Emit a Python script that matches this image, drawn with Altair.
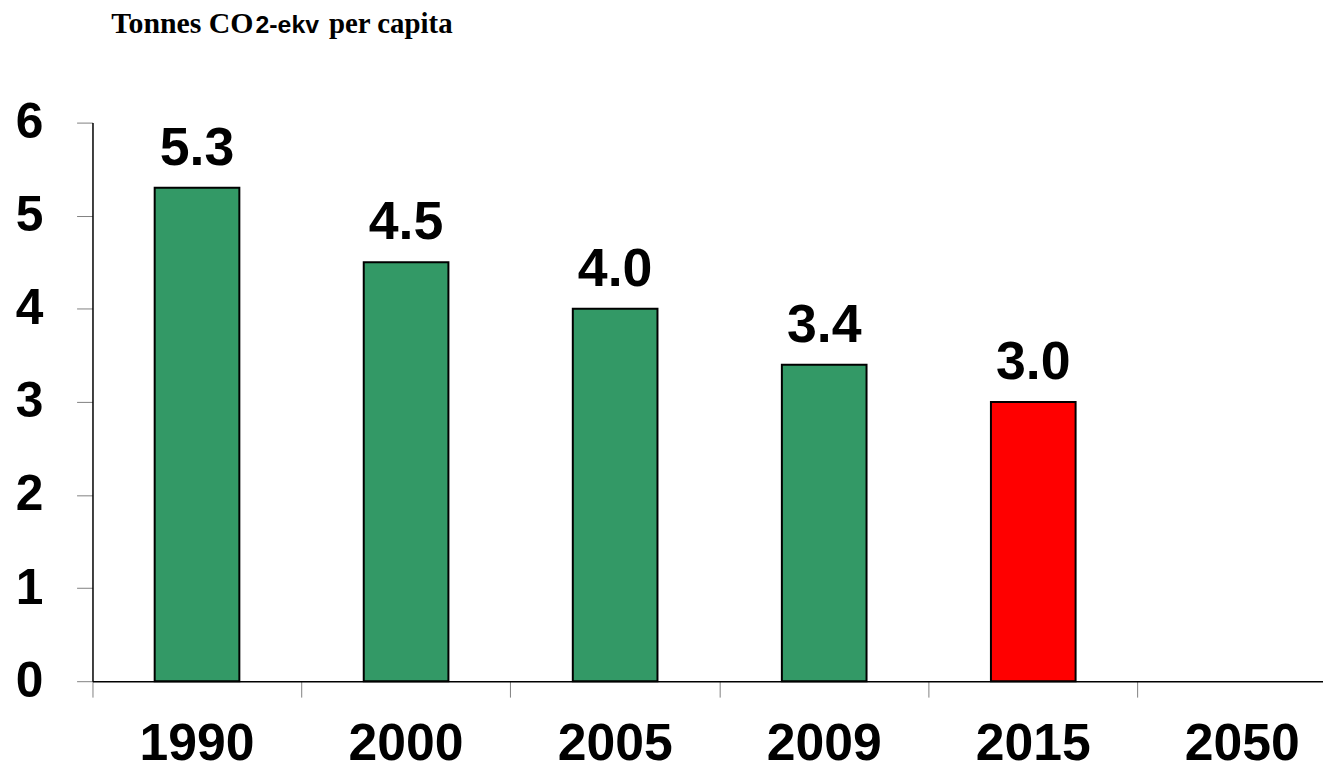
import altair as alt
import pandas as pd

categories = ["1990", "2000", "2005", "2009", "2015", "2050"]
years = ["1990", "2000", "2005", "2009", "2015"]
values = [5.3, 4.5, 4.0, 3.4, 3.0]
colors = ["#339966", "#339966", "#339966", "#339966", "#FF0000"]

df = pd.DataFrame({"year": years, "value": values, "color": colors})

xscale = alt.Scale(domain=categories, range=[0, 1262], paddingInner=0, paddingOuter=0)
yscale = alt.Scale(domain=[0, 6], nice=False)

x_axis = alt.Axis(bandPosition=0, labelAngle=0, labelFont="Liberation Sans",
                  labelFontWeight="bold", labelFontSize=52, labelColor="black",
                  labelPadding=22, tickSize=16, tickColor="#808080",
                  domainColor="black", domainWidth=1.5, labelBaseline="top",
                  grid=False)
y_axis = alt.Axis(values=[0, 1, 2, 3, 4, 5, 6], format="d",
                  labelFont="Liberation Sans",
                  labelFontWeight="bold", labelFontSize=50, labelColor="black",
                  labelPadding=34, tickSize=16, tickColor="#808080",
                  domainColor="black", domainWidth=1.5, grid=False)

x_enc = alt.X("year:N", scale=xscale, sort=categories, title=None, axis=x_axis)
y_enc = alt.Y("value:Q", scale=yscale, title=None, axis=y_axis)

bars = alt.Chart(df).mark_bar(width=alt.RelativeBandSize(0.405), stroke="black",
                              strokeWidth=2).encode(
    x=x_enc, y=y_enc, color=alt.Color("color:N", scale=None))

labels = alt.Chart(df).mark_text(font="Liberation Sans", fontWeight="bold", fontSize=54,
                                 dy=-23, baseline="alphabetic", color="black").encode(
    x=x_enc, y=y_enc,
    text=alt.Text("value:Q", format=".1f"))

title_df = pd.DataFrame({"t": [0]})
t1 = alt.Chart(title_df).mark_text(text="Tonnes CO", font="Liberation Serif", fontWeight="bold",
                                   fontSize=30, align="left", baseline="alphabetic",
                                   color="black").encode(x=alt.value(19), y=alt.value(-90))
t2 = alt.Chart(title_df).mark_text(text="2-ekv", font="Liberation Sans", fontWeight="bold",
                                   fontSize=25, align="left", baseline="alphabetic",
                                   color="black").encode(x=alt.value(164), y=alt.value(-90))
t3 = alt.Chart(title_df).mark_text(text="per capita", font="Liberation Serif", fontWeight="bold",
                                   fontSize=29, align="left", baseline="alphabetic",
                                   color="black").encode(x=alt.value(238), y=alt.value(-90))

chart = alt.layer(bars, labels, t1, t2, t3).properties(
    width=1238, height=562,
    autosize=alt.AutoSizeParams(type="none"),
    padding={"left": 85, "top": 113, "right": 0, "bottom": 80},
).configure(background="white").configure_view(stroke=None, strokeWidth=0)

chart.save("out.html", embed_options={"renderer": "svg", "actions": False})
